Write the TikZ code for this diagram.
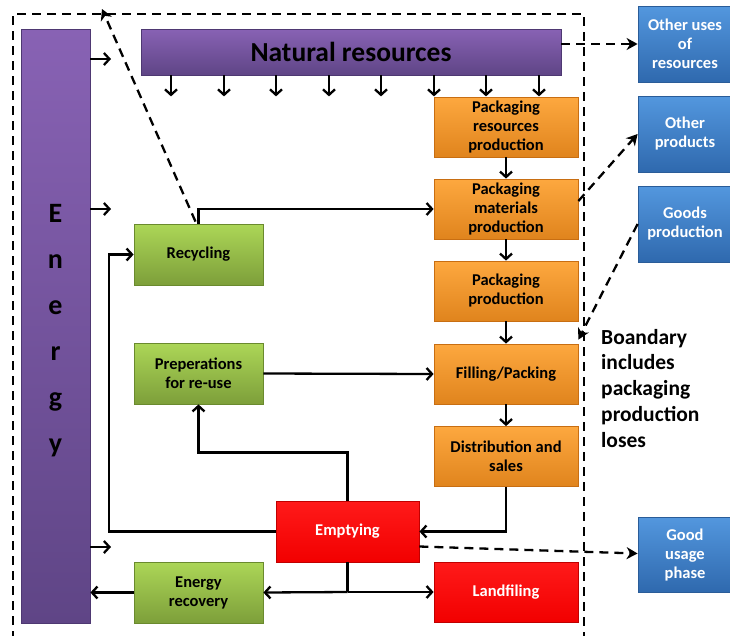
\documentclass[tikz,border=0pt]{standalone}
\usepackage{fontspec}
\setmainfont{Carlito}
\usetikzlibrary{arrows.meta,calc}

\definecolor{purpTop}{HTML}{8862B4}
\definecolor{purpBot}{HTML}{5F4586}
\definecolor{purpLine}{HTML}{4E3872}
\definecolor{orTop}{HTML}{FDA83F}
\definecolor{orBot}{HTML}{E0841D}
\definecolor{orLine}{HTML}{C86E12}
\definecolor{grTop}{HTML}{ACD657}
\definecolor{grBot}{HTML}{7D9F3A}
\definecolor{grLine}{HTML}{6A8A2E}
\definecolor{rdTop}{HTML}{FF1A1A}
\definecolor{rdBot}{HTML}{F20000}
\definecolor{rdLine}{HTML}{C00000}
\definecolor{blTop}{HTML}{5397DE}
\definecolor{blBot}{HTML}{2F69AE}
\definecolor{blLine}{HTML}{2A5C98}

\tikzset{
  box/.style={rectangle, inner sep=1pt, align=center, line width=0.8pt,
    font=\bfseries\fontsize{16.5}{19}\selectfont},
  purplebox/.style={box, draw=purpLine, top color=purpTop, bottom color=purpBot},
  orangebox/.style={box, draw=orLine, top color=orTop, bottom color=orBot,
    minimum width=144pt, minimum height=60pt},
  greenbox/.style={box, draw=grLine, top color=grTop, bottom color=grBot,
    minimum width=129pt, minimum height=61pt},
  redbox/.style={box, draw=rdLine, top color=rdTop, bottom color=rdBot,
    text=white, minimum height=60pt},
  bluebox/.style={box, draw=blLine, top color=blTop, bottom color=blBot,
    text=white, minimum width=94pt, minimum height=76pt},
  arr/.style={line width=2.3pt, -{Straight Barb[length=5.5pt,width=12pt]}},
  flow/.style={line width=2.3pt},
  darr/.style={line width=2.3pt, dash pattern=on 9pt off 6pt,
    -{Stealth[length=11pt,width=12pt,inset=3.5pt]}},
  bound/.style={line width=2.3pt, dash pattern=on 9pt off 6pt},
}

\begin{document}
\begin{tikzpicture}[x=1pt,y=-1pt]
\useasboundingbox (0,0) rectangle (730,635);

% system boundary, open at the bottom
\draw[bound] (13,640) -- (13,14) -- (584,14) -- (584,640);

% energy and resource bars
\node[purplebox, minimum width=69pt, minimum height=594pt] (energy) at (55.5,326) {};
\node[font=\bfseries\fontsize{28}{46}\selectfont, align=center, inner sep=0pt]
  (energytext) at (55.5,331) {E\\n\\e\\r\\g\\y};
\node[purplebox, minimum width=420pt, minimum height=46pt,
  font=\bfseries\fontsize{27.5}{30}\selectfont] (nat) at (351,52) {Natural resources};

% packaging chain
\node[orangebox] (pr) at (506,127) {Packaging\\resources\\production};
\node[orangebox] (pm) at (506,209) {Packaging\\materials\\production};
\node[orangebox] (pp) at (506,291) {Packaging\\production};
\node[orangebox] (fp) at (506,374) {Filling/Packing};
\node[orangebox] (ds) at (506,456.5) {Distribution and\\sales};
\node[redbox, minimum width=144pt] (lf) at (506,592) {Landfiling};
\node[redbox, minimum width=143pt, minimum height=61pt] (emp) at (347.5,531.5) {Emptying};

% recovery routes
\node[greenbox] (rc) at (198.5,254.5) {Recycling};
\node[greenbox] (prep) at (198.5,373.5) {Preperations\\for re-use};
\node[greenbox] (er) at (198.5,592.5) {Energy\\recovery};

% outside the boundary
\node[bluebox] (ou) at (685,44) {Other uses\\of\\resources};
\node[bluebox] (op) at (685,134) {Other\\products};
\node[bluebox] (gp) at (685,224) {Goods\\production};
\node[bluebox, minimum height=75pt] (gu) at (685,554.5) {Good\\usage\\phase};

\node[anchor=north west, align=left, inner sep=0pt,
  font=\bfseries\fontsize{21.5}{25.7}\selectfont] (note) at (601,329)
  {Boandary\\includes\\packaging\\production\\loses};

% energy inputs
\coordinate (e1) at (111,59);
\coordinate (e2) at (111,209);
\coordinate (e3) at (111,547);
\foreach \c in {e1,e2,e3} \draw[arr] (energy.east |- \c) -- (\c);

% resource inputs
\foreach \x in {171,224,276,329,381,434,486,539}
  \draw[arr] (nat.south -| \x,0) -- ++(0,21);

% main chain
\draw[arr] (pr) -- (pm);
\draw[arr] (pm) -- (pp);
\draw[arr] (pp) -- (fp);
\draw[arr] (fp) -- (ds);
\draw[arr] (ds.south) |- (emp.east);

% return loops
\draw[arr] (emp.north) -- ++(0,-48) -| (prep.south);
\coordinate (loopL) at (109,531.5);
\draw[arr] (emp.west) -- (loopL) |- (rc.west);
\draw[arr] (rc.north) |- (pm.west);
\draw[arr] (prep.east) -- (fp.west);
\coordinate (split) at (347.5,592);
\draw[flow] (emp.south) -- (split);
\draw[arr] (split) -- (er.east);
\draw[arr] (split) -- (lf.west);
\draw[arr] (er.west) -- (er.west -| energy.east);

% flows across the boundary
\coordinate (topend) at (102,9);
\draw[darr] ($(rc.north)+(-3,-2)$) -- (topend);
\draw[darr] (nat.east |- ou.west) -- (ou.west);
\draw[darr] ($(pm.east)+(0,-8)$) -- (op.west);
\draw[darr] (gp.west) -- ($(fp.north east)+(0,-4)$);
\draw[darr] ($(emp.east)+(0,15)$) -- ($(gu.west)+(0,-1)$);
\end{tikzpicture}
\end{document}
